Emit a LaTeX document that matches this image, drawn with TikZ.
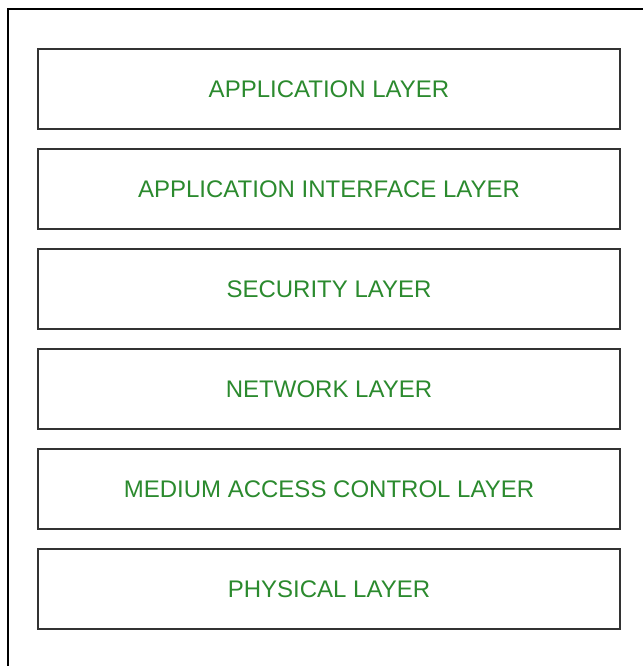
\documentclass[tikz,border=0pt]{standalone}
\usepackage{fontspec}
\setmainfont{Liberation Sans}
\usetikzlibrary{positioning}
\definecolor{layerText}{HTML}{2B8A2E}
\definecolor{layerLine}{HTML}{333333}

\begin{document}
\begin{tikzpicture}[
  x=1pt, y=-1pt,
  font=\fontsize{24}{26}\selectfont,
  layer/.style={draw=layerLine, line width=2pt, minimum width=582.5pt,
                minimum height=80pt, inner sep=0pt, text=layerText},
  frame/.style={draw=black, line width=1.6pt}
]
\useasboundingbox (0,0) rectangle (643,666);
\draw[frame] (8,666) -- (8,9) -- (643,9);

\node[layer] (app) at (329,89) {APPLICATION LAYER};
\node[layer, below=18pt of app] (api) {APPLICATION INTERFACE LAYER};
\node[layer, below=18pt of api] (sec) {SECURITY LAYER};
\node[layer, below=18pt of sec] (net) {NETWORK LAYER};
\node[layer, below=18pt of net] (mac) {MEDIUM ACCESS CONTROL LAYER};
\node[layer, below=18pt of mac] (phy) {PHYSICAL LAYER};
\end{tikzpicture}
\end{document}
